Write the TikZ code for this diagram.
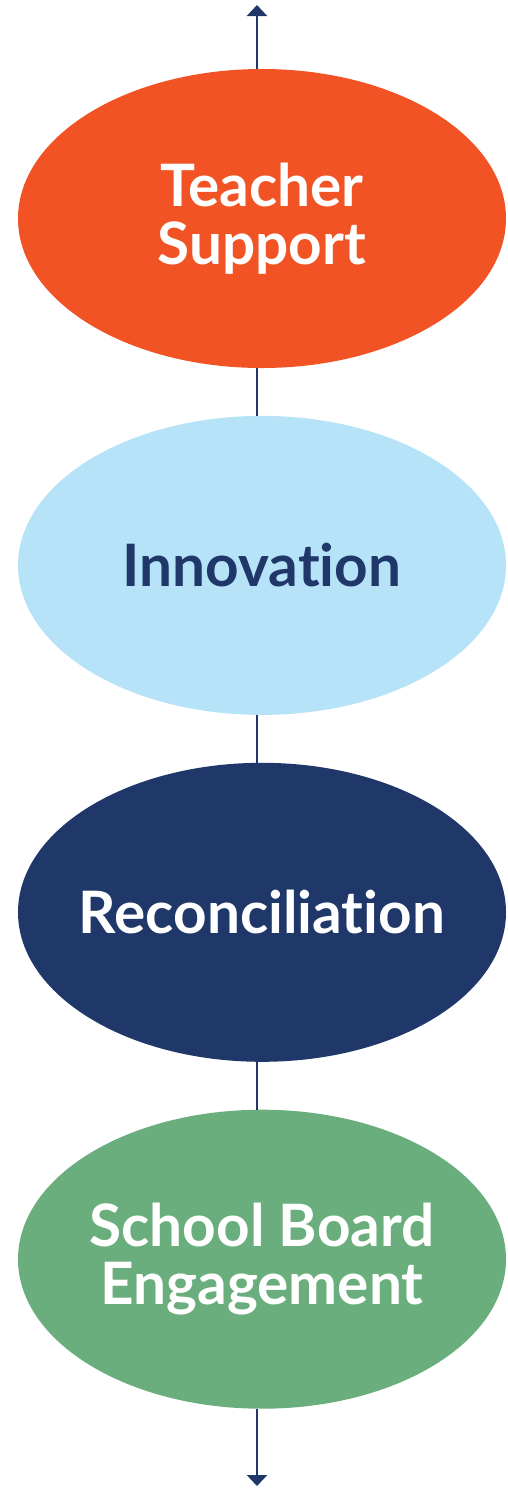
\documentclass[tikz,border=0pt]{standalone}
\usepackage{fontspec}
\setmainfont{Lato}[Ligatures=NoCommon]
\usetikzlibrary{
    arrows.meta,
    positioning,
    shapes.geometric,
}

\definecolor{teachOrange}{HTML}{F15325}
\definecolor{innovBlue}{HTML}{B7E3F9}
\definecolor{reconNavy}{HTML}{1F3769}
\definecolor{boardGreen}{HTML}{6BAE7D}

\begin{document}
\begin{tikzpicture}[
    x=1pt, y=-1pt,
    node distance= 47.5pt,
    pillar/.style={ellipse, draw=none, inner sep=0pt,
                   minimum width=488pt, minimum height=299pt},
    pillarText/.style={align=center, inner sep=0pt,
                   font=\fontsize{58.5}{58}\selectfont\bfseries},
    axis/.style={draw=reconNavy, line width=2.6pt},
    axisArrow/.style={axis, -{Triangle[width=20pt,length=11pt]}}
]

\useasboundingbox (0,0) rectangle (507,1489);

\node[pillar, fill=teachOrange,
    label={[pillarText, text=white]center:Teacher\\Support}]
    (teacher) at (262,218.5) {};

\node[pillar, fill=innovBlue,
    label={[pillarText, text=reconNavy]center:Innovation}]
    [below=of teacher] (innovation) {};

\node[pillar, fill=reconNavy,
    label={[pillarText, text=white]center:Reconciliation}]
    [below=of innovation] (reconciliation) {};

\node[pillar, fill=boardGreen,
    label={[pillarText, text=white]center:School Board\\Engagement}]
    [below=of reconciliation] (board) {};

\coordinate (axisTop) at (257,5);
\coordinate (axisBottom) at (257,1486);

\draw[axisArrow] (teacher.north -| axisTop) -- (axisTop);
\draw[axis] (teacher.south -| axisTop) -- (innovation.north -| axisTop);
\draw[axis] (innovation.south -| axisTop) -- (reconciliation.north -| axisTop);
\draw[axis] (reconciliation.south -| axisTop) -- (board.north -| axisTop);
\draw[axisArrow] (board.south -| axisTop) -- (axisBottom);

\end{tikzpicture}
\end{document}
